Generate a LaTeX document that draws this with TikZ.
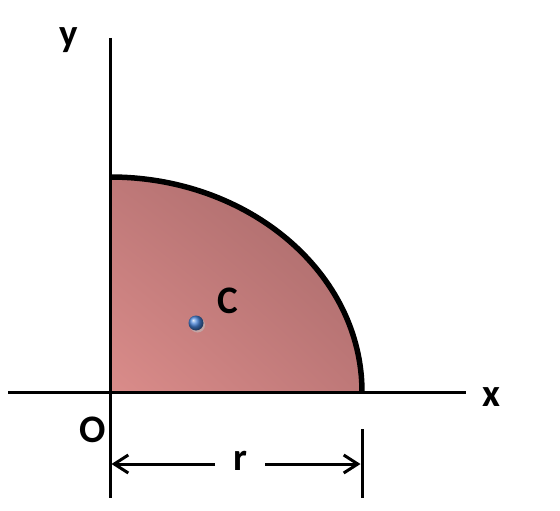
\documentclass[tikz,border=0pt]{standalone}
\usepackage{fontspec}
\setmainfont{Carlito}
\usetikzlibrary{arrows.meta,shadings}
\definecolor{fillLL}{RGB}{218,140,138}
\definecolor{fillUR}{RGB}{165,104,104}
\definecolor{fillMid}{RGB}{190,120,120}
\definecolor{ballblue}{RGB}{70,130,215}
\begin{document}
\begin{tikzpicture}[x=1pt,y=-1pt,
  axis/.style={line width=3pt,black},
  lbl/.style={font=\fontsize{39}{41}\selectfont\bfseries,inner sep=0pt},
  dim/.style={line width=3pt,-{Straight Barb[length=14pt,width=18pt,line width=3pt]}}]
\useasboundingbox (0,0) rectangle (560,511);
% filled quarter ellipse
\shade[lower left=fillLL, upper right=fillUR, upper left=fillMid, lower right=fillMid]
  (110,392) -- (362,392) arc[start angle=0,end angle=90,x radius=252,y radius=-215] -- cycle;
\draw[line width=5.5pt] (362,392) arc[start angle=0,end angle=90,x radius=252,y radius=-215];
% axes
\coordinate (ytop) at (110,38);
\coordinate (ybot) at (110,498);
\coordinate (xl) at (8,392);
\coordinate (xr) at (466,392);
\draw[axis] (ytop) -- (ybot);
\draw[axis] (xl) -- (xr);
% labels
\node[lbl] (ylbl) at (69,40) {y};
\node[lbl] (xlbl) at (491,397) {x};
\node[lbl] (olbl) at (93,430) {O};
\node[lbl] (clbl) at (228,301) {C};
\node[lbl] (rlbl) at (240,461) {r};
% centroid
\fill[black!25,opacity=0.6] (197.5,325) circle[radius=7.5];
\shade[ball color=ballblue] (196,323) circle[radius=7.5];
\node[inner sep=0pt,minimum size=15pt] (cdot) at (196,323) {};
% dimension
\coordinate (tk1) at (362,429);
\coordinate (tk2) at (362,498);
\draw[axis] (tk1) -- (tk2);
\coordinate (al) at (111.5,464);
\coordinate (ar) at (360.5,464);
\coordinate (am1) at (215,464);
\coordinate (am2) at (265,464);
\draw[dim] (am1) -- (al);
\draw[dim] (am2) -- (ar);
\end{tikzpicture}
\end{document}
